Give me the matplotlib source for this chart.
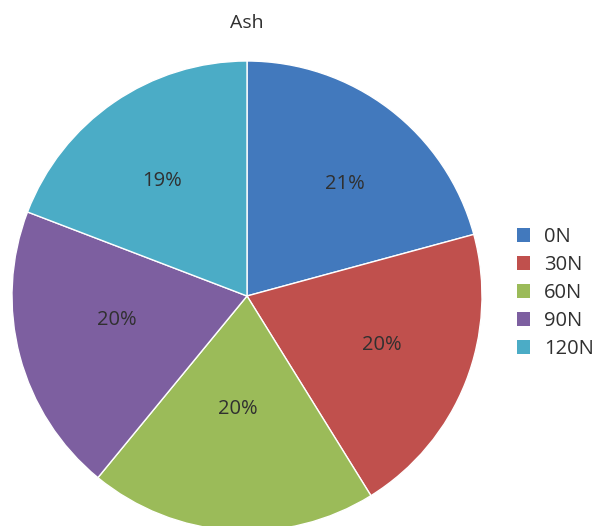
import matplotlib
matplotlib.use('Agg')
import matplotlib.pyplot as plt
from matplotlib.patches import Patch

labels = ['0N', '30N', '60N', '90N', '120N']
values = [20.8, 20.4, 19.8, 19.9, 19.2]
colors = ['#4279bd', '#c0504d', '#9bbb59', '#7d5fa0', '#4bacc6']

# where the chart tool put the percentage labels (fraction of radius)
pct_pos = [(0.417, 0.477), (0.574, -0.209), (-0.038, -0.481),
           (-0.553, -0.102), (-0.362, 0.489)]

plt.rcParams['font.family'] = ['Open Sans', 'DejaVu Sans']
text_color = '#303030'

fig = plt.figure(figsize=(5.95, 5.26), dpi=100)
# pie centre ~ (247, 296) px, radius ~ 235 px
ax = fig.add_axes([(247 - 235) / 595, (230 - 235) / 526, 470 / 595, 470 / 526])

wedges, texts, autotexts = ax.pie(
    values, colors=colors, startangle=90, counterclock=False,
    autopct='%.0f%%', pctdistance=0.6, radius=1.0,
    textprops={'fontsize': 14.5, 'color': text_color},
    wedgeprops={'linewidth': 1, 'edgecolor': 'white'})
for t, p in zip(autotexts, pct_pos):
    t.set_position(p)

ax.set_xlim(-1, 1)
ax.set_ylim(-1, 1)
ax.set_aspect('equal')
ax.axis('off')

fig.text(247 / 595, 1 - 23 / 526, 'Ash', ha='center', va='center',
         fontsize=14, color=text_color)

handles = [Patch(facecolor=c, edgecolor='none') for c in colors]
fig.legend(handles, labels, loc='center left', bbox_to_anchor=(517 / 595, 1 - 293 / 526),
           frameon=False, fontsize=14.5, labelcolor=text_color,
           handlelength=0.65, handleheight=0.65, handletextpad=0.7,
           labelspacing=0.4, borderaxespad=0, borderpad=0)

fig.savefig('out.png', dpi=100)
